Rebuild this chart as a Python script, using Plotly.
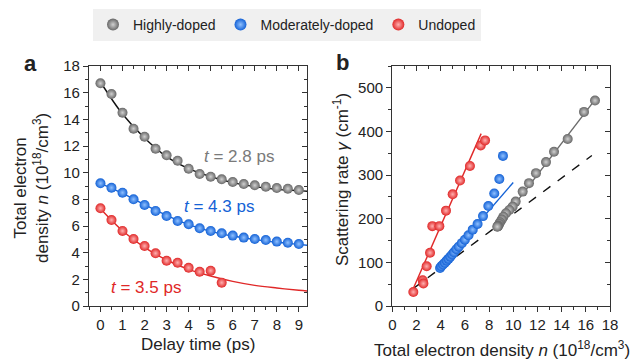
import plotly.graph_objects as go

# ---------------- Data: panel a ----------------
t_hi = [0, 0.5, 1, 1.5, 2, 2.5, 3, 3.5, 4, 4.5, 5, 5.5, 6, 6.5, 7, 7.5, 8, 8.5, 9]
n_hi = [16.7, 15.9, 14.5, 13.3, 12.7, 11.8, 11.3, 10.9, 10.3, 9.9, 9.7, 9.5, 9.3, 9.15, 9.05, 8.95, 8.85, 8.8, 8.7]
t_mod = [0, 0.5, 1, 1.5, 2, 2.5, 3, 3.5, 4, 4.5, 5, 5.5, 6, 6.5, 7, 7.5, 8, 8.5, 9]
n_mod = [9.2, 8.87, 8.5, 8.0, 7.58, 7.13, 6.75, 6.38, 6.13, 5.83, 5.63, 5.45, 5.28, 5.13, 5.03, 4.95, 4.83, 4.75, 4.65]
t_un = [0, 0.5, 1, 1.5, 2, 2.5, 3, 3.5, 4, 4.5, 5, 5.5]
n_un = [7.33, 6.45, 5.63, 5.03, 4.5, 3.95, 3.4, 3.25, 2.87, 2.57, 2.65, 1.75]

# fitted curves
fit_t = [0, 1, 2, 3, 4, 5, 6, 7, 8, 9, 9.4]
fit_hi = [16.8, 14.4, 12.6, 11.2, 10.3, 9.7, 9.25, 8.95, 8.75, 8.65, 8.6]
fit_mod = [9.2, 8.45, 7.6, 6.8, 6.1, 5.6, 5.25, 4.98, 4.78, 4.62, 4.55]
fit_un = [7.3, 5.65, 4.4, 3.45, 2.75, 2.25, 1.85, 1.55, 1.35, 1.18, 1.12]

# ---------------- Data: panel b ----------------
nb_un = [1.74, 2.51, 2.57, 2.84, 3.12, 3.31, 3.89, 4.44, 4.99, 5.6, 6.42, 7.31, 7.67]
g_un = [32, 59, 51.5, 91, 122, 183, 183, 218.5, 256, 287.5, 321, 368, 379.5]
nb_mod = [3.95, 4.05, 4.2, 4.35, 4.5, 4.65, 4.8, 4.95, 5.1, 5.3, 5.5, 5.75, 6.0, 6.3, 6.65, 7.05, 7.5, 7.94, 8.43, 8.85, 9.15]
g_mod = [87, 91, 95, 99, 104, 108, 113, 118, 123, 130, 136, 144, 152, 162, 175, 188, 206, 229, 258, 291, 344]
nb_hi = [16.76, 15.85, 14.50, 13.37, 12.71, 11.88, 11.30, 10.78, 10.20, 9.95, 9.68, 9.40, 9.18, 9.05, 8.91, 8.84, 8.77, 8.72, 8.68]
g_hi = [470.8, 444.8, 382.7, 353.5, 329.8, 304.5, 281.5, 262.2, 239.2, 227.7, 220, 212.5, 204.7, 198, 191.8, 188, 184, 182.5, 181.7]

line_un_x = [1.7, 7.35]
line_un_y = [38, 395]
line_mod_x = [3.9, 10.0]
line_mod_y = [88, 283]
line_hi_x = [8.6, 16.8]
line_hi_y = [178, 474]
dash_x = [1.74, 16.5]
dash_y = [40, 345]

series_names = ["Highly-doped", "Moderately-doped", "Undoped"]
tau_labels = ["2.8", "4.3", "3.5"]

GRAY, BLUE, RED = "#676767", "#1462d6", "#e02828"
GRAY_C, BLUE_C, RED_C = "#d0d0d0", "#8fc0ff", "#ffb0b0"
TXT = "#222222"
FONT = "Liberation Sans, Arial, sans-serif"


def ball(color, center, size=10):
    return dict(size=size, color=color, line=dict(width=0),
                gradient=dict(type="radial", color=center))


fig = go.Figure()

# panel a
fig.add_trace(go.Scatter(x=fit_t, y=fit_hi, mode="lines", line=dict(color="#111111", width=1.4, shape="spline"),
                         showlegend=False, hoverinfo="skip", xaxis="x", yaxis="y"))
fig.add_trace(go.Scatter(x=fit_t, y=fit_mod, mode="lines", line=dict(color=BLUE, width=1.4, shape="spline"),
                         showlegend=False, hoverinfo="skip", xaxis="x", yaxis="y"))
fig.add_trace(go.Scatter(x=fit_t, y=fit_un, mode="lines", line=dict(color=RED, width=1.4, shape="spline"),
                         showlegend=False, hoverinfo="skip", xaxis="x", yaxis="y"))
fig.add_trace(go.Scatter(x=t_hi, y=n_hi, mode="markers", marker=ball(GRAY, GRAY_C), name=series_names[0],
                         xaxis="x", yaxis="y"))
fig.add_trace(go.Scatter(x=t_mod, y=n_mod, mode="markers", marker=ball(BLUE, BLUE_C), name=series_names[1],
                         xaxis="x", yaxis="y"))
fig.add_trace(go.Scatter(x=t_un, y=n_un, mode="markers", marker=ball(RED, RED_C), name=series_names[2],
                         xaxis="x", yaxis="y"))

# panel b
fig.add_trace(go.Scatter(x=dash_x, y=dash_y, mode="lines", line=dict(color="#111111", width=1.4, dash="dash"),
                         showlegend=False, hoverinfo="skip", xaxis="x2", yaxis="y2"))
fig.add_trace(go.Scatter(x=line_un_x, y=line_un_y, mode="lines", line=dict(color=RED, width=1.4),
                         showlegend=False, hoverinfo="skip", xaxis="x2", yaxis="y2"))
fig.add_trace(go.Scatter(x=line_mod_x, y=line_mod_y, mode="lines", line=dict(color=BLUE, width=1.4),
                         showlegend=False, hoverinfo="skip", xaxis="x2", yaxis="y2"))
fig.add_trace(go.Scatter(x=line_hi_x, y=line_hi_y, mode="lines", line=dict(color="#6a6a6a", width=1.4),
                         showlegend=False, hoverinfo="skip", xaxis="x2", yaxis="y2"))
fig.add_trace(go.Scatter(x=nb_hi, y=g_hi, mode="markers", marker=ball(GRAY, GRAY_C), showlegend=False,
                         xaxis="x2", yaxis="y2"))
fig.add_trace(go.Scatter(x=nb_mod, y=g_mod, mode="markers", marker=ball(BLUE, BLUE_C), showlegend=False,
                         xaxis="x2", yaxis="y2"))
fig.add_trace(go.Scatter(x=nb_un, y=g_un, mode="markers", marker=ball(RED, RED_C), showlegend=False,
                         xaxis="x2", yaxis="y2"))

# dummy traces for mirrored inside-tick axes
for xa, ya in [("x3", "y"), ("x", "y3"), ("x4", "y2"), ("x2", "y4")]:
    fig.add_trace(go.Scatter(x=[None], y=[None], mode="markers", showlegend=False, hoverinfo="skip",
                             xaxis=xa, yaxis=ya))

XA_DOM = [89 / 630, 307 / 630]
XB_DOM = [392.3 / 630, 610 / 630]
Y_DOM = [1 - 306 / 359, 1 - 66 / 359]

XA_RANGE = [-0.52, 9.37]
YA_RANGE = [0, 18]
XB_RANGE = [0, 18]
YB_RANGE = [0, 550]

tickfont = dict(family=FONT, size=15, color=TXT)


def main_axis(domain, rng, dtick, minor_dtick, anchor):
    return dict(domain=domain, range=rng, dtick=dtick, tick0=0, ticks="outside", ticklen=5, tickwidth=1.2,
                tickcolor="#333", showline=True, linecolor="#333", linewidth=1.3, mirror=True,
                showgrid=False, zeroline=False, tickfont=tickfont, anchor=anchor, fixedrange=True,
                automargin=False,
                minor=dict(dtick=minor_dtick, tick0=0, ticks="outside", ticklen=3, tickwidth=1.1, tickcolor="#333"))


def mirror_axis(rng, dtick, minor_dtick, overlay, side, anchor):
    return dict(range=rng, dtick=dtick, tick0=0, ticks="inside", ticklen=5, tickwidth=1.2, tickcolor="#333",
                showline=False, showgrid=False, zeroline=False, showticklabels=False, overlaying=overlay,
                side=side, anchor=anchor, fixedrange=True, automargin=False,
                minor=dict(dtick=minor_dtick, tick0=0, ticks="inside", ticklen=3, tickwidth=1.1, tickcolor="#333"))


ann = []


def text_ann(x, y, text, size, color=TXT, angle=0, bold=False, xref="paper", yref="paper", xanchor="center"):
    ann.append(dict(x=x, y=y, xref=xref, yref=yref, text=(f"<b>{text}</b>" if bold else text), showarrow=False,
                    textangle=angle, xanchor=xanchor, yanchor="middle",
                    font=dict(family=FONT, size=size, color=color)))


def px(xp):
    return xp / 630


def py(yp):
    return 1 - yp / 359


# panel labels
text_ann(px(30), py(63), "a", 22, bold=True)
text_ann(px(342), py(62), "b", 22, bold=True)
# axis titles
text_ann(px(198), py(344), "Delay time (ps)", 17)
text_ann(px(31), py(188), "Total electron<br>density <i>n</i> (10<sup>18</sup>/cm<sup>3</sup>)", 17, angle=-90)
text_ann(px(502), py(349), "Total electron density <i>n</i> (10<sup>18</sup>/cm<sup>3</sup>)", 17)
text_ann(px(341), py(180), "Scattering rate <i>γ</i> (cm<sup>-1</sup>)", 17, angle=-90)
# time constants
text_ann(6.3, 11.2, f"<i>t</i> = {tau_labels[0]} ps", 17, color="#7a7a7a", xref="x", yref="y")
text_ann(5.36, 7.5, f"<i>t</i> = {tau_labels[1]} ps", 17, color=BLUE, xref="x", yref="y")
text_ann(2.08, 1.4, f"<i>t</i> = {tau_labels[2]} ps", 17, color=RED, xref="x", yref="y")

fig.update_layout(
    width=630, height=359, margin=dict(l=0, r=0, t=0, b=0, autoexpand=False),
    paper_bgcolor="white", plot_bgcolor="white",
    xaxis=main_axis(XA_DOM, XA_RANGE, 1, 0.5, "y"),
    yaxis=main_axis(Y_DOM, YA_RANGE, 2, 1, "x"),
    xaxis2=main_axis(XB_DOM, XB_RANGE, 2, 1, "y2"),
    yaxis2=main_axis(Y_DOM, YB_RANGE, 100, 50, "x2"),
    xaxis3=mirror_axis(XA_RANGE, 1, 0.5, "x", "top", "y"),
    yaxis3=mirror_axis(YA_RANGE, 2, 1, "y", "right", "x"),
    xaxis4=mirror_axis(XB_RANGE, 2, 1, "x2", "top", "y2"),
    yaxis4=mirror_axis(YB_RANGE, 100, 50, "y2", "right", "x2"),
    annotations=ann,
    showlegend=True,
    legend=dict(orientation="h", x=px(93), y=py(9), xanchor="left", yanchor="top",
                bgcolor="#f0f0f0", borderwidth=0, font=dict(family=FONT, size=14, color=TXT),
                itemsizing="constant", tracegroupgap=0, entrywidth=0),
)

fig.write_html("out.html")
